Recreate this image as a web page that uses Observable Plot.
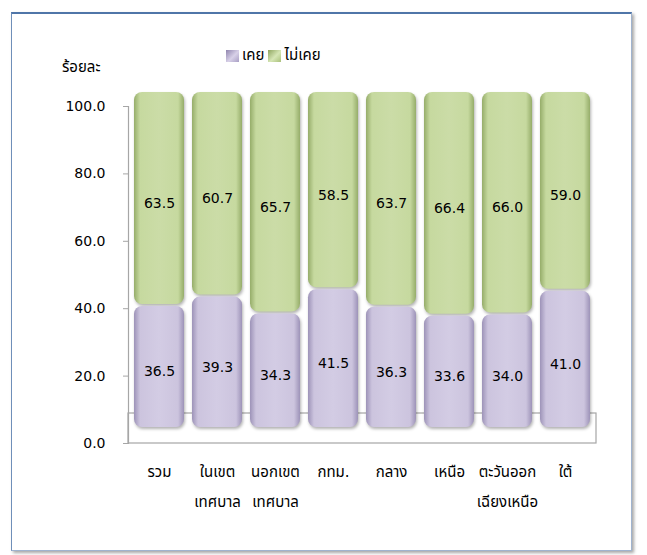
<!DOCTYPE html>
<html>
<head>
<meta charset="utf-8">
<script src="https://cdn.jsdelivr.net/npm/d3@7"></script>
<script src="https://cdn.jsdelivr.net/npm/@observablehq/plot@0.6"></script>
<style>
  html, body { margin: 0; padding: 0; background: #fff; }
  body { width: 647px; height: 555px; position: relative; overflow: hidden;
         font-family: Tahoma, "DejaVu Sans", "Noto Sans Thai", Loma, Garuda, sans-serif; color: #000; }
  #frame { position: absolute; left: 11px; top: 12px; width: 619px; height: 536px;
           border: 1px solid #9fb3cf; border-top: 2px solid #4f75a8; border-left: 1px solid #6f8fb9;
           box-shadow: 2px 2px 3px rgba(0,0,0,0.35); background: #fff; }
  #legend { position: absolute; top: 44px; left: 226px; font-size: 15px; display: flex; align-items: center; white-space: nowrap; }
  .sw { display: inline-block; width: 13px; height: 12px; margin-right: 3px; }
  #ylab { position: absolute; left: 62px; top: 56px; font-size: 15px; }
  #chart { position: absolute; left: 0; top: 80px; }
  #chart svg { overflow: visible; }
  #chart g[aria-label="bar"] { filter: drop-shadow(1px 2px 1.5px rgba(0,0,0,0.3)); }
</style>
</head>
<body>
<div id="frame"></div>
<div id="legend"></div>
<div id="ylab">ร้อยละ</div>
<div id="chart"></div>
<script>
const categories = ["รวม", "ในเขต\nเทศบาล", "นอกเขต\nเทศบาล", "กทม.", "กลาง", "เหนือ", "ตะวันออก\nเฉียงเหนือ", "ใต้"];
const seriesNames = ["เคย", "ไม่เคย"];
const everValues = [36.5, 39.3, 34.3, 41.5, 36.3, 33.6, 34.0, 41.0];
const neverValues = [63.5, 60.7, 65.7, 58.5, 63.7, 66.4, 66.0, 59.0];
const yTicks = [0, 20, 40, 60, 80, 100];

const seriesFills = ["url(#gPurple)", "url(#gGreen)"];
const swatchBg = [
  "linear-gradient(135deg, #8f84ad 0%, #d8d1e8 55%, #a89ec4 100%)",
  "linear-gradient(135deg, #8ea45e 0%, #d6e6b6 55%, #a9c07a 100%)"
];

const table = [];
categories.forEach((c, i) => {
  table.push({category: c, series: seriesNames[0], value: everValues[i]});
  table.push({category: c, series: seriesNames[1], value: neverValues[i]});
});

// legend
const legend = document.getElementById("legend");
seriesNames.forEach((s, i) => {
  const sw = document.createElement("span");
  sw.className = "sw";
  sw.style.background = swatchBg[i];
  legend.appendChild(sw);
  const t = document.createElement("span");
  t.textContent = s;
  t.style.marginRight = i === 0 ? "4px" : "0";
  legend.appendChild(t);
});

const fontFam = 'Tahoma, "DejaVu Sans", "Noto Sans Thai", Loma, Garuda, sans-serif';

const plot = Plot.plot({
  width: 647,
  height: 470,
  marginTop: 26,
  marginBottom: 107,
  marginLeft: 128,
  marginRight: 51,
  style: {fontFamily: fontFam, fontSize: "14px", color: "#000", background: "transparent"},
  x: {domain: categories, paddingInner: 0.145, paddingOuter: 0.0725, label: null},
  y: {domain: [0, 100], label: null},
  color: {domain: seriesNames, range: seriesFills},
  marks: [
    Plot.rect([0], {y1: 0, y2: 0, insetTop: -30, fill: "none", stroke: "#a6a6a6", strokeWidth: 1.2}),
    Plot.frame({anchor: "left", stroke: "#a6a6a6", strokeWidth: 1.2}),
    Plot.barY(table, Plot.stackY({x: "category", y: "value", z: "series", fill: "series",
      order: seriesNames, rx: 8, insetTop: 1, insetBottom: 1, dy: -15})),
    Plot.text(table, Plot.stackY({x: "category", y: "value", z: "series", order: seriesNames,
      text: d => d.value.toFixed(1), dy: -10, fontSize: 14, fill: "#000"})),
    Plot.axisY({ticks: yTicks, tickFormat: d3.format(".1f"), tickSize: 5, tickPadding: 18,
      stroke: "#a6a6a6", fontSize: 14, label: null}),
    Plot.axisX({tickSize: 0, tickPadding: 13, fontSize: 15, lineHeight: 1.95, label: null})
  ]
});

const svg = d3.select(plot);
const defs = svg.insert("defs", ":first-child");
function grad(id, dark, main, light) {
  const g = defs.append("linearGradient").attr("id", id).attr("x1", "0").attr("x2", "1").attr("y1", "0").attr("y2", "0");
  g.append("stop").attr("offset", "0%").attr("stop-color", dark);
  g.append("stop").attr("offset", "12%").attr("stop-color", main);
  g.append("stop").attr("offset", "50%").attr("stop-color", light);
  g.append("stop").attr("offset", "88%").attr("stop-color", main);
  g.append("stop").attr("offset", "100%").attr("stop-color", dark);
}
grad("gPurple", "#9d93b8", "#ccc4de", "#d3cce4");
grad("gGreen", "#96ad6a", "#c6d99f", "#cbdca7");

document.getElementById("chart").appendChild(plot);
</script>
</body>
</html>
